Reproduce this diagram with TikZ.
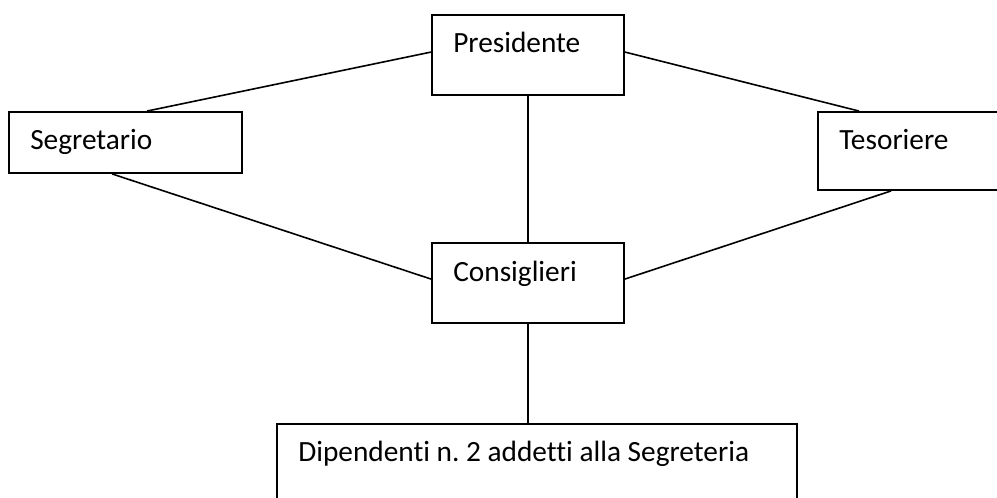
\documentclass[tikz,border=0pt]{standalone}
\usepackage{fontspec}
\setmainfont[Ligatures={NoCommon}]{Carlito}
\usetikzlibrary{calc}
\frenchspacing
\begin{document}
\begin{tikzpicture}[x=0.75pt,y=-0.75pt,
  box/.style={draw=black,line width=1.4pt,fill=none,inner sep=0pt,rectangle},
  lbl/.style={anchor=base west,inner sep=0pt,font=\fontsize{22}{26}\selectfont},
  conn/.style={draw=black,line width=1.2pt}]
\useasboundingbox (0,0) rectangle (997,498);
\node[box,minimum width={192*0.75pt},minimum height={80*0.75pt}] (pres) at (528,55) {};
\node[box,minimum width={233*0.75pt},minimum height={61*0.75pt}] (seg) at (125.5,142.5) {};
\node[box,minimum width={184*0.75pt},minimum height={78*0.75pt}] (tes) at (910,151) {};
\node[box,minimum width={192*0.75pt},minimum height={80*0.75pt}] (cons) at (528,283) {};
\node[box,minimum width={520*0.75pt},minimum height={84*0.75pt}] (dip) at (537,466) {};
\node[lbl] (presT) at (453,53) {Presidente};
\node[lbl] (segT) at (30,150) {Segretario};
\node[lbl] (tesT) at (839,150) {Tesoriere};
\node[lbl] (consT) at (453,282) {Consiglieri};
\node[lbl] (dipT) at (298,462) {Dipendenti n. 2 addetti alla Segreteria};
\draw[conn] ($(seg.north west)+(139,0)$) -- ($(pres.north west)+(0,38)$);
\draw[conn] ($(pres.north east)+(0,38)$) -- ($(tes.north west)+(42,0)$);
\draw[conn] (pres.south) -- (cons.north);
\draw[conn] ($(seg.south west)+(104,0)$) -- ($(cons.north west)+(0,37)$);
\draw[conn] ($(tes.south west)+(74,0)$) -- ($(cons.north east)+(0,37)$);
\draw[conn] (cons.south) -- (cons.south |- dip.north);
\end{tikzpicture}
\end{document}
